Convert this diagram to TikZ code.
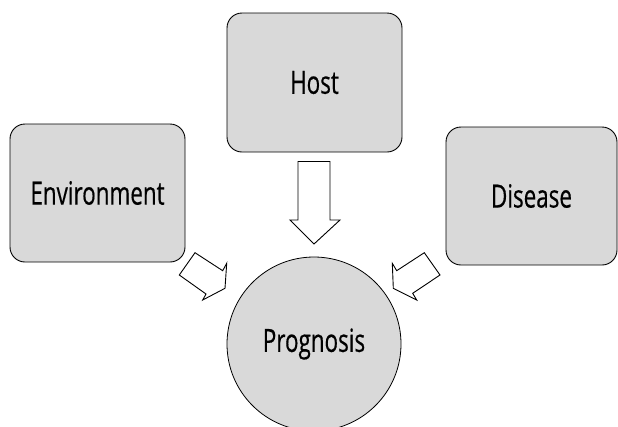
\documentclass[tikz,border=0pt]{standalone}
\usepackage{fontspec}
\setmainfont[FakeStretch=0.70,FakeBold=0.4]{Open Sans}
\definecolor{boxgray}{HTML}{D9D9D9}
\begin{document}
\begin{tikzpicture}[x=1pt,y=-1pt,
  box/.style={draw=black, line width=0.9pt, fill=boxgray, rounded corners=15pt,
    inner sep=0pt, font=\fontsize{32}{35}\selectfont},
  ring/.style={draw=black, line width=0.8pt, fill=boxgray, circle, inner sep=0pt,
    minimum size=174pt, font=\fontsize{32}{35}\selectfont},
  blockarrow/.style={draw=black, line width=0.9pt, fill=white, line join=miter}]
\useasboundingbox (0,0) rectangle (618,426);
\clip (0,0) rectangle (618,426);
\node[box, minimum width=175pt, minimum height=138pt] (env) at (97.5,193) {Environment};
\node[box, minimum width=175pt, minimum height=139pt] (host) at (314.5,82.5) {Host};
\node[box, minimum width=171pt, minimum height=138pt] (dis) at (531.5,196) {Disease};
\node[ring] (prog) at (314,344) {Prognosis};
% host arrow
\draw[blockarrow] (298,161.5) -- (330,161.5) -- (330,220) -- (340,220) -- (314,244)
  -- (290,220) -- (298,220) -- cycle;
% left arrow
\draw[blockarrow] (195,252.7) -- (222.7,270.7) -- (226.7,263.3) -- (225,288.3)
  -- (202.7,300) -- (206,294) -- (179.3,275) -- cycle;
% right arrow
\draw[blockarrow] (424.3,252.7) -- (396.7,270.7) -- (392.3,263.3) -- (393.3,288.3)
  -- (416.7,300) -- (412.7,293.3) -- (440,275) -- cycle;
\end{tikzpicture}
\end{document}
